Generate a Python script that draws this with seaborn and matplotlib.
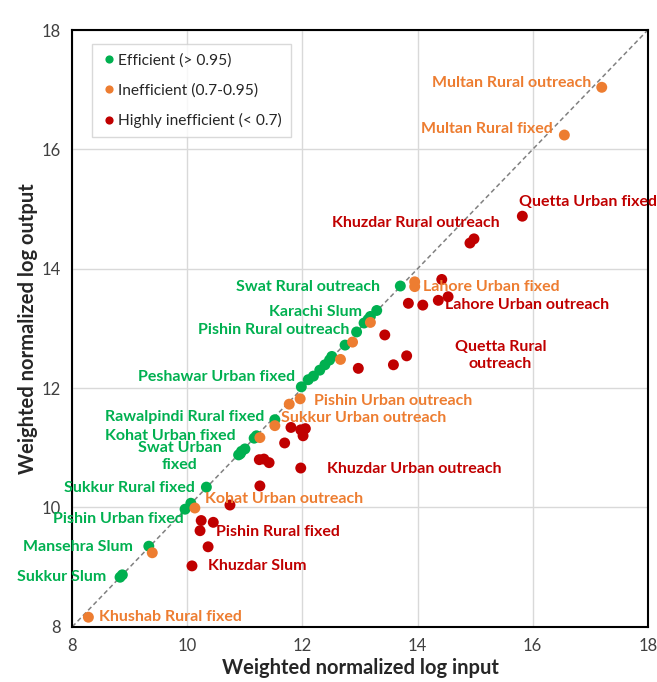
"""Scatter of weighted normalized log input vs output, coloured by efficiency class."""

import numpy as np
import pandas as pd
import matplotlib
matplotlib.use("Agg")
import matplotlib.pyplot as plt
import seaborn as sns

# Efficient (> 0.95)
green_x = [8.83, 8.87, 9.33, 9.96, 10.06, 10.33, 10.89, 10.92, 10.94, 11.00, 11.16, 11.20, 11.52,
           11.98, 12.10, 12.19, 12.30, 12.39, 12.47, 12.51, 12.74, 12.94, 13.07, 13.14, 13.18,
           13.29, 13.70]
green_y = [8.83, 8.87, 9.35, 9.97, 10.07, 10.34, 10.88, 10.90, 10.94, 10.98, 11.16, 11.20, 11.47,
           12.02, 12.14, 12.20, 12.30, 12.39, 12.47, 12.53, 12.72, 12.94, 13.09, 13.15, 13.20,
           13.30, 13.71]

# Inefficient (0.7-0.95)
orange_x = [8.28, 9.39, 10.13, 11.26, 11.52, 11.77, 11.96, 12.66, 12.87, 13.18, 13.95, 13.95,
            16.55, 17.20]
orange_y = [8.16, 9.24, 9.99, 11.17, 11.37, 11.73, 11.82, 12.48, 12.77, 13.10, 13.78, 13.70,
            16.24, 17.04]

# Highly inefficient (< 0.7)
red_x = [10.08, 10.22, 10.24, 10.36, 10.45, 10.74, 11.26, 11.25, 11.33, 11.42, 11.69, 11.80,
         11.97, 12.05, 12.01, 11.97, 12.97, 13.43, 13.58, 13.81, 13.84, 14.09, 14.36, 14.53,
         14.42, 14.91, 14.98, 15.82]
red_y = [9.02, 9.61, 9.78, 9.34, 9.75, 10.04, 10.36, 10.80, 10.81, 10.75, 11.08, 11.34,
         11.30, 11.32, 11.20, 10.66, 12.33, 12.89, 12.39, 12.54, 13.42, 13.39, 13.47, 13.53,
         13.82, 14.43, 14.50, 14.88]

categories = ["Efficient (> 0.95)", "Inefficient (0.7-0.95)", "Highly inefficient (< 0.7)"]
colors = ["#00B050", "#ED7D31", "#C00000"]

# labels: text, x, y, alignment, category index
label_text = ["Multan Rural outreach", "Multan Rural fixed", "Quetta Urban fixed",
              "Khuzdar Rural outreach", "Lahore Urban fixed", "Lahore Urban outreach",
              "Quetta Rural\noutreach", "Swat Rural outreach", "Karachi Slum",
              "Pishin Rural outreach", "Peshawar Urban fixed", "Rawalpindi Rural fixed",
              "Kohat Urban fixed", "Swat Urban\nfixed", "Sukkur Rural fixed",
              "Pishin Urban fixed", "Mansehra Slum", "Sukkur Slum", "Khushab Rural fixed",
              "Kohat Urban outreach", "Pishin Rural fixed", "Khuzdar Slum",
              "Khuzdar Urban outreach", "Pishin Urban outreach", "Sukkur Urban outreach"]
label_x = [17.02, 16.35, 15.76, 12.52, 14.09, 14.47, 15.44, 10.84, 11.42, 10.18, 11.87, 11.33,
           10.83, 9.87, 10.13, 9.93, 9.06, 8.59, 8.47, 10.31, 10.50, 10.35, 12.42, 12.20, 11.63]
label_y = [17.12, 16.34, 15.12, 14.76, 13.70, 13.39, 12.54, 13.70, 13.28, 12.97, 12.19, 11.52,
           11.19, 10.85, 10.32, 9.80, 9.33, 8.83, 8.16, 10.14, 9.58, 9.01, 10.65, 11.79, 11.50]
label_ha = ["right", "right", "left", "left", "left", "left", "center", "left", "left", "left",
            "right", "right", "right", "center", "right", "right", "right", "right", "left",
            "left", "left", "left", "left", "left", "left"]
label_cat = [1, 1, 2, 2, 1, 2, 2, 0, 0, 0, 0, 0, 0, 0, 0, 0, 0, 0, 1, 1, 2, 2, 2, 1, 1]

df = pd.concat([
    pd.DataFrame({"x": green_x, "y": green_y, "cls": categories[0]}),
    pd.DataFrame({"x": orange_x, "y": orange_y, "cls": categories[1]}),
    pd.DataFrame({"x": red_x, "y": red_y, "cls": categories[2]}),
], ignore_index=True)

sns.set_style("white")
plt.rcParams["font.family"] = ["Lato", "DejaVu Sans"]

fig = plt.figure(figsize=(6.57, 6.82), dpi=100)
ax = fig.add_axes([0.110, 0.081, 0.876, 0.875])

ax.plot([8, 18], [8, 18], ls=(0, (3, 2)), color="#808080", lw=1.1, zorder=1)
sns.scatterplot(data=df, x="x", y="y", hue="cls", hue_order=categories,
                palette=dict(zip(categories, colors)), s=62, edgecolor="none",
                ax=ax, zorder=3)

for t, x, y, ha, c in zip(label_text, label_x, label_y, label_ha, label_cat):
    ax.text(x, y, t, ha=ha, va="center", color=colors[c], fontsize=11.5,
            fontweight="bold", multialignment="center", linespacing=1.3, zorder=4)

ax.set_xlim(8, 18)
ax.set_ylim(8, 18)
ax.set_xticks(np.arange(8, 19, 2))
ax.set_yticks(np.arange(8, 19, 2))
ax.grid(True, color="#D9D9D9", lw=1)
ax.set_axisbelow(True)
ax.tick_params(labelsize=12, colors="#404040", length=0, pad=8)
for sp in ax.spines.values():
    sp.set_color("black")
    sp.set_linewidth(1.5)

ax.set_xlabel("Weighted normalized log input", fontsize=14.5, fontweight="bold", labelpad=3)
ax.set_ylabel("Weighted normalized log output", fontsize=14.5, fontweight="bold", labelpad=3)

handles, labels = ax.get_legend_handles_labels()
leg = ax.legend(handles, labels, loc="upper left", bbox_to_anchor=(0.02, 0.99),
                fontsize=11.2, frameon=True, fancybox=False, edgecolor="#D0D0D0",
                labelspacing=1.0, handletextpad=0.1, handlelength=1.0,
                borderpad=0.6, markerscale=0.75)
for txt in leg.get_texts():
    txt.set_color("#262626")

fig.savefig("out.png", dpi=100)
plt.close(fig)
